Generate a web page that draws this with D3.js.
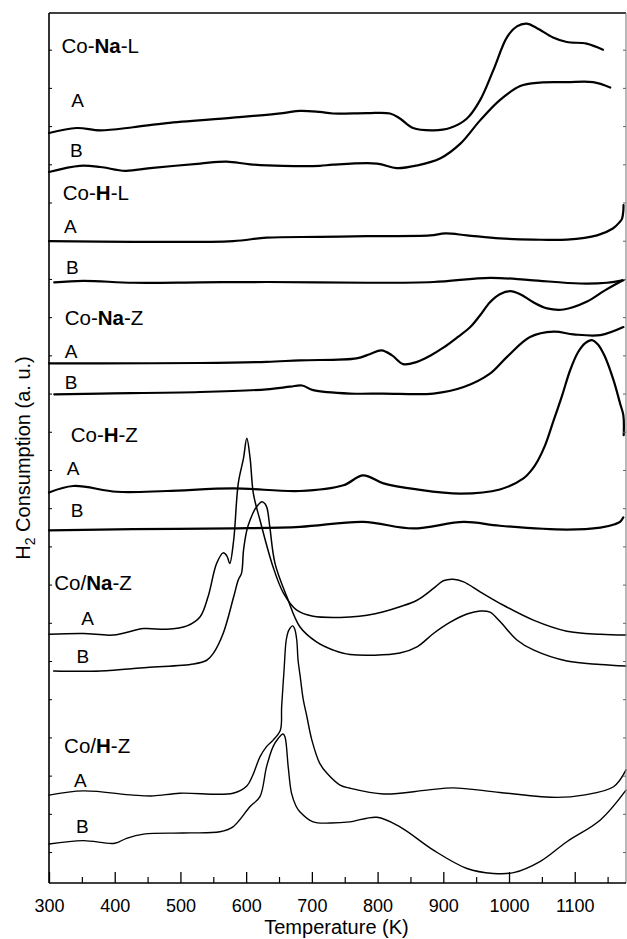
<!DOCTYPE html>
<html>
<head>
<meta charset="utf-8">
<script src="https://cdn.jsdelivr.net/npm/d3@7"></script>
<style>
  body { margin: 0; background: #fff; }
  text { font-family: "Liberation Sans", Arial, Helvetica, sans-serif; fill: #000; }
</style>
</head>
<body>
<svg id="chart" width="627" height="939"></svg>
<script>
// Temperature axis ticks (K)
const majorTicks = [300, 400, 500, 600, 700, 800, 900, 1000, 1100];
const minorTicks = [350, 450, 550, 650, 750, 850, 950, 1050, 1150];
// Unlabelled intensity ticks (a. u.)
const intensityTicks = d3.range(0, 22);

// TPR traces: [temperature (K), H2 consumption (a. u., stacked offset)]
const coNaL_A = [[300,18.82],[342,18.95],[378,18.89],[428,18.97],[479,19.08],[580,19.22],[656,19.34],[682,19.40],[712,19.37],[732,19.33],[784,19.34],[819,19.33],[834,19.20],[854,18.95],[885,18.89],[910,18.95],[936,19.20],[956,19.68],[976,20.46],[997,21.33],[1012,21.61],[1027,21.68],[1042,21.57],[1067,21.32],[1088,21.20],[1118,21.16],[1143,21.00]];
const coNaL_B = [[300,17.80],[347,17.96],[378,17.93],[416,17.83],[454,17.90],[530,18.02],[570,18.07],[606,18.00],[656,17.96],[712,17.96],[732,17.99],[799,18.02],[829,17.90],[860,17.97],[895,18.15],[926,18.54],[956,19.15],[986,19.68],[1017,20.05],[1047,20.14],[1088,20.15],[1128,20.15],[1154,20.01]];
const coHL_A = [[300,15.99],[428,15.97],[580,15.99],[631,16.08],[712,16.10],[784,16.12],[880,16.14],[903,16.19],[936,16.14],[986,16.06],[1037,16.03],[1088,16.03],[1134,16.14],[1158,16.32],[1168,16.48],[1172,16.58],[1174,16.80],[1174.2,16.93]];
const coHL_B = [[308,14.91],[352,14.95],[428,14.90],[530,14.91],[631,14.92],[784,14.90],[885,14.92],[971,15.03],[1032,14.97],[1108,14.88],[1149,14.90],[1174,14.97]];
const coNaZ_A = [[300,12.79],[378,12.79],[530,12.80],[631,12.83],[682,12.87],[768,12.92],[788,13.03],[806,13.13],[822,13.00],[839,12.77],[860,12.83],[880,12.99],[900,13.20],[919,13.44],[941,13.74],[956,14.05],[971,14.39],[986,14.60],[1002,14.68],[1017,14.60],[1037,14.39],[1058,14.23],[1083,14.20],[1118,14.40],[1146,14.70],[1174,14.97]];
const coNaZ_B = [[308,11.98],[378,12.00],[530,12.04],[631,12.11],[667,12.18],[685,12.21],[702,12.09],[758,12.00],[809,12.00],[885,12.00],[931,12.17],[971,12.52],[997,12.96],[1032,13.48],[1068,13.62],[1098,13.55],[1139,13.53],[1174,13.74]];
const coHZ_A = [[300,9.41],[337,9.58],[403,9.43],[479,9.45],[580,9.52],[682,9.45],[748,9.60],[778,9.86],[809,9.65],[860,9.49],[926,9.38],[986,9.49],[1022,9.78],[1034,9.99],[1044,10.25],[1055,10.65],[1067,11.25],[1081,11.96],[1093,12.61],[1105,13.08],[1116,13.32],[1126,13.40],[1135,13.29],[1145,13.00],[1159,12.35],[1169,11.74],[1174,11.43],[1174.5,10.91]];
const coHZ_B = [[300,8.42],[428,8.45],[580,8.47],[682,8.51],[778,8.64],[854,8.47],[931,8.64],[986,8.54],[1088,8.44],[1139,8.49],[1161,8.58],[1169,8.64],[1174,8.76]];
const coSlashNaZ_A = [[300,5.70],[352,5.72],[398,5.68],[444,5.85],[479,5.83],[510,5.92],[530,6.16],[542,6.68],[555,7.55],[565,7.83],[571,7.74],[575,7.55],[581,8.16],[588,9.65],[596,10.31],[601,10.83],[606,10.31],[611,9.38],[621,8.69],[641,7.46],[657,6.77],[677,6.33],[702,6.17],[743,6.14],[758,6.15],[784,6.20],[809,6.29],[834,6.42],[860,6.59],[885,6.90],[900,7.10],[915,7.14],[931,7.07],[956,6.81],[986,6.51],[1037,6.07],[1088,5.78],[1139,5.70],[1178,5.68]];
const coSlashNaZ_B = [[307,4.74],[378,4.74],[449,4.83],[520,4.92],[540,5.02],[550,5.20],[565,5.72],[581,6.68],[588,7.12],[593,7.30],[596,7.90],[601,8.42],[606,8.69],[614,8.99],[624,9.17],[629,9.11],[632,8.99],[636,8.51],[644,7.55],[662,6.68],[682,5.89],[707,5.50],[732,5.29],[758,5.17],[834,5.21],[860,5.37],[885,5.72],[910,6.01],[936,6.23],[956,6.31],[971,6.28],[986,6.04],[1012,5.55],[1037,5.29],[1088,5.00],[1139,4.91],[1178,4.87]];
const coSlashHZ_A = [[300,1.49],[352,1.60],[428,1.49],[459,1.47],[499,1.54],[580,1.54],[601,1.73],[610,2.01],[621,2.49],[631,2.76],[641,2.93],[652,3.19],[654,3.80],[658,4.85],[661,5.55],[665,5.81],[671,5.92],[674,5.83],[677,5.55],[679,5.02],[682,4.63],[687,3.98],[692,3.58],[700,2.93],[712,2.32],[723,2.06],[743,1.75],[758,1.67],[809,1.52],[875,1.62],[915,1.68],[986,1.56],[1073,1.43],[1113,1.49],[1159,1.71],[1178,2.15]];
const coSlashHZ_B = [[300,0.21],[352,0.30],[400,0.23],[418,0.36],[444,0.47],[504,0.50],[560,0.53],[580,0.66],[606,1.19],[621,1.45],[631,2.23],[641,2.76],[649,2.98],[656,3.09],[659,3.02],[664,2.23],[669,1.54],[676,1.20],[682,1.05],[702,0.79],[728,0.76],[758,0.79],[799,0.91],[834,0.66],[885,0.05],[936,-0.43],[976,-0.56],[1007,-0.54],[1047,-0.25],[1088,0.27],[1139,0.84],[1178,1.62]];

// Sample names: [plain prefix, bold cation, plain suffix]
const sampleNames = [["Co-","Na","-L"],["Co-","H","-L"],["Co-","Na","-Z"],["Co-","H","-Z"],["Co/","Na","-Z"],["Co/","H","-Z"]];
const sampleAnchors = [[319,20.92],[321,17.06],[324,13.79],[333,10.74],[308,6.86],[323,2.60]];
const traceLetters = ["A","B","A","B","A","B","A","B","A","B","A","B"];
const letterAnchors = [[334,19.50],[332,18.18],[323,16.19],[326,15.12],[324,12.92],[324,12.11],[327,9.88],[333,8.76],[349,5.94],[342,4.96],[338,1.71],[341,0.49]];

const traces = [coNaL_A, coNaL_B, coHL_A, coHL_B, coNaZ_A, coNaZ_B, coHZ_A, coHZ_B, coSlashNaZ_A, coSlashNaZ_B, coSlashHZ_A, coSlashHZ_B];
const traceWidths = [2.2, 2.2, 2.2, 2.2, 2.2, 2.2, 2.2, 2.2, 1.5, 1.5, 1.4, 1.4];

const svg = d3.select("#chart");
const plotLeft = 49, plotRight = 626, plotTop = 13, plotBottom = 883;

const x = d3.scaleLinear().domain([300, 1178]).range([plotLeft, plotRight]);
const y = d3.scaleLinear().domain([-0.81, 21.96]).range([plotBottom, plotTop]);

// Traces
const line = d3.line()
  .x(d => x(d[0]))
  .y(d => y(d[1]))
  .curve(d3.curveCatmullRom.alpha(0.5));

svg.append("g").selectAll("path").data(traces).join("path")
  .attr("d", line)
  .attr("fill", "none")
  .attr("stroke", "#000")
  .attr("stroke-width", (d, i) => traceWidths[i])
  .attr("stroke-linejoin", "round")
  .attr("stroke-linecap", "round");

// Frame
svg.append("line").attr("x1", plotLeft).attr("x2", plotRight).attr("y1", plotTop).attr("y2", plotTop)
  .attr("stroke", "#000").attr("stroke-width", 1.3);
svg.append("line").attr("x1", plotRight).attr("x2", plotRight).attr("y1", plotTop).attr("y2", plotBottom)
  .attr("stroke", "#888").attr("stroke-width", 1.2);

// Bottom axis: inward ticks
const xAxis = d3.axisBottom(x).tickValues(majorTicks).tickSize(-11).tickPadding(16).tickFormat(d3.format("d"));
const gx = svg.append("g").attr("transform", `translate(0,${plotBottom})`).call(xAxis);
gx.select(".domain").attr("stroke-width", 1.6).attr("d", `M${plotLeft},0H${plotRight}`);
gx.selectAll(".tick line").attr("stroke-width", 1.3);
gx.selectAll("text").attr("font-size", 18).attr("font-family", "Liberation Sans, Arial, sans-serif");
const gxMinor = svg.append("g").attr("transform", `translate(0,${plotBottom})`)
  .call(d3.axisBottom(x).tickValues(minorTicks).tickSize(-6).tickFormat(""));
gxMinor.select(".domain").remove();
gxMinor.selectAll(".tick line").attr("stroke-width", 1.2);

// Left axis and mirrored right ticks (unlabelled)
const gy = svg.append("g").attr("transform", `translate(${plotLeft},0)`)
  .call(d3.axisLeft(y).tickValues(intensityTicks).tickSize(-3).tickFormat(""));
gy.select(".domain").attr("stroke-width", 1.6).attr("d", `M0,${plotTop}V${plotBottom}`);
const gyR = svg.append("g").attr("transform", `translate(${plotRight},0)`)
  .call(d3.axisRight(y).tickValues(intensityTicks).tickSize(-3).tickFormat(""));
gyR.select(".domain").remove();
gyR.selectAll(".tick line").attr("stroke", "#666");

// Axis titles
svg.append("text").attr("x", (plotLeft + plotRight) / 2 - 1).attr("y", 934)
  .attr("text-anchor", "middle").attr("font-size", 20).text("Temperature (K)");
const yt = svg.append("text")
  .attr("transform", `translate(30,${(plotTop + plotBottom) / 2 + 10}) rotate(-90)`)
  .attr("text-anchor", "middle").attr("font-size", 20);
yt.append("tspan").text("H");
yt.append("tspan").attr("font-size", 14).attr("dy", 5).text("2");
yt.append("tspan").attr("dy", -5).text(" Consumption (a. u.)");

// Sample names with bold cation
sampleNames.forEach((parts, i) => {
  const t = svg.append("text")
    .attr("x", x(sampleAnchors[i][0])).attr("y", y(sampleAnchors[i][1]))
    .attr("font-size", 20.5);
  t.append("tspan").text(parts[0]);
  t.append("tspan").attr("font-weight", "bold").text(parts[1]);
  t.append("tspan").text(parts[2]);
});

// Trace letters
svg.append("g").selectAll("text").data(traceLetters).join("text")
  .attr("x", (d, i) => x(letterAnchors[i][0]))
  .attr("y", (d, i) => y(letterAnchors[i][1]))
  .attr("font-size", 19)
  .text(d => d);
</script>
</body>
</html>
